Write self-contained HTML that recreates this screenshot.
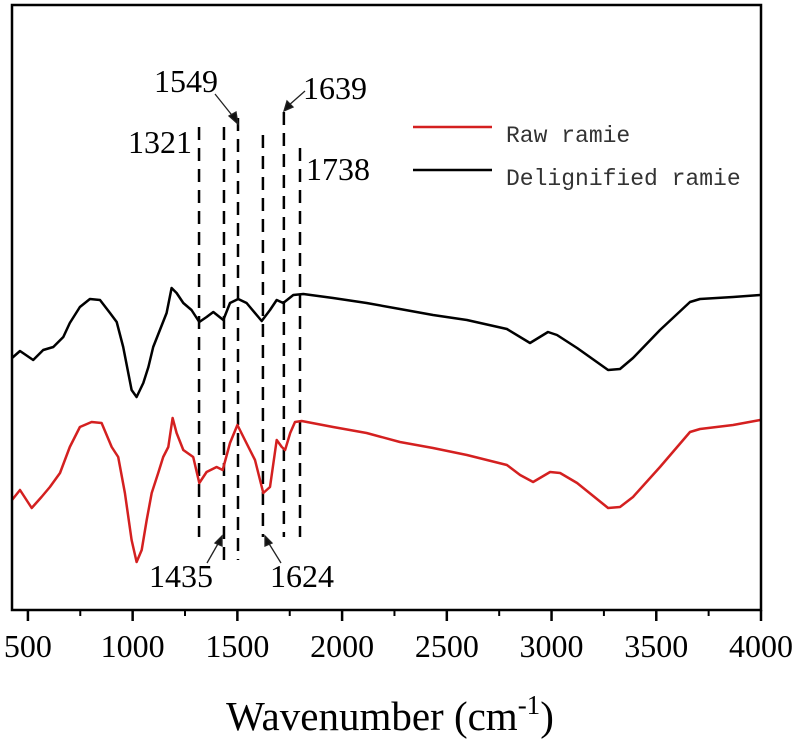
<!DOCTYPE html>
<html><head><meta charset="utf-8"><style>
body{margin:0;background:#fff}
svg{display:block;font-family:"Liberation Serif",serif}
</style></head><body>
<svg id="chart" width="800" height="745" viewBox="0 0 800 745" xmlns="http://www.w3.org/2000/svg">
<g id="plot"></g>
<rect x="12" y="5" width="749" height="605" fill="none" stroke="#000" stroke-width="2.5"/>
<g id="xaxis"></g>
<text x="390" y="730" font-size="41" text-anchor="middle">Wavenumber (cm<tspan font-size="27" dy="-16">-1</tspan><tspan dy="16">)</tspan></text>
<g font-family="Liberation Mono, monospace" font-size="23" fill="#333">
<line x1="413" y1="127" x2="492" y2="127" stroke="#d42020" stroke-width="2.5"/>
<text x="506" y="142">Raw ramie</text>
<line x1="413" y1="170" x2="492" y2="170" stroke="#000" stroke-width="2.5"/>
<text x="506" y="185">Delignified ramie</text>
</g>
<g font-size="32">
<text x="154" y="92">1549</text>
<text x="128" y="153">1321</text>
<text x="303" y="99">1639</text>
<text x="306" y="180">1738</text>
<text x="149" y="587">1435</text>
<text x="270" y="587">1624</text>
<g stroke="#222" stroke-width="1.3" fill="#111">
<line x1="215" y1="94" x2="235" y2="119"/><polygon points="238,124 229,116 236,112"/>
<line x1="305" y1="91" x2="288" y2="106"/><polygon points="284,111 287,101 293,107"/>
<line x1="207" y1="563" x2="219" y2="542"/><polygon points="222,536 222,546 215,543"/>
<line x1="281" y1="563" x2="268" y2="542"/><polygon points="265,536 272,543 265,546"/>
</g>
</g>
</svg>
<script>
const wnBlack=[424,462,525,573,621,669,700,748,796,844,892,924,955,995,1019,1051,1075,1098,1130,1162,1186,1210,1242,1281,1318,1353,1385,1433,1465,1504,1544,1616,1656,1688,1719,1767,1815,1957,2117,2276,2434,2596,2787,2897,2983,3026,3122,3270,3327,3389,3518,3661,3709,3867,3996];
const tBlack=[252,259,250,260,263,273,287,303,311,310,297,288,263,220,213,227,243,263,280,297,322,317,307,300,288,293,298,290,307,311,307,289,300,310,307,315,316,312,307,301,295,290,281,267,278,275,262,240,241,252,280,308,311,313,315];
const wnRed=[424,462,518,565,605,653,700,748,804,852,900,931,963,995,1019,1043,1067,1091,1122,1146,1170,1191,1210,1242,1289,1318,1353,1401,1430,1465,1500,1536,1584,1624,1656,1688,1712,1728,1752,1775,1807,1957,2117,2276,2434,2596,2787,2850,2912,2993,3041,3122,3270,3327,3389,3518,3661,3709,3867,3996];
const tRed=[110,120,102,113,123,137,163,183,188,187,163,153,117,70,48,60,90,117,137,153,163,192,177,160,153,127,138,143,140,167,185,170,150,117,123,170,163,160,177,188,189,183,177,168,162,155,145,135,128,138,137,127,102,103,113,143,178,181,185,190];
const xTicks=[500,1000,1500,2000,2500,3000,3500,4000];
const xMinor=[750,1250,1750,2250,2750,3250,3750];
const peakNames=[1321,1435,1549,1624,1639,1738];
const peakPos=[1317,1436,1503,1622,1722,1799];
const peakTop=[127,127,118,135,112,148];
const peakBottom=[537,560,560,537,537,537];
const NS="http://www.w3.org/2000/svg";
const X0=424,X1=4000,PX0=12,PX1=761;
function x(v){return PX0+(v-X0)*(PX1-PX0)/(X1-X0);}
function y(v){return 610-v;}
const plot=document.getElementById('plot'),ax=document.getElementById('xaxis');
function mk(tag,attrs,parent){const e=document.createElementNS(NS,tag);for(const k in attrs)e.setAttribute(k,attrs[k]);parent.appendChild(e);return e;}
function line(wn,t,color,name){
 const d=wn.map((w,i)=>(i?'L':'M')+x(w).toFixed(1)+','+y(t[i]).toFixed(1)).join('');
 const p=mk('path',{d:d,fill:'none',stroke:color,'stroke-width':2.5,'stroke-linejoin':'round'},plot);
 
 
}
peakPos.forEach((p,i)=>{
 const l=mk('line',{x1:x(p),x2:x(p),y1:peakTop[i],y2:peakBottom[i],stroke:'#000','stroke-width':2.5,'stroke-dasharray':'13 8'},plot);
 
 
});
line(wnBlack,tBlack,'#000','series-delignified-ramie');
line(wnRed,tRed,'#d42020','series-raw-ramie');
xTicks.forEach(t=>{
 const l=mk('line',{x1:x(t),x2:x(t),y1:610,y2:621,stroke:'#000','stroke-width':2.5},ax);
 
 
 const tx=mk('text',{x:x(t),y:657,'font-size':32,'text-anchor':'middle'},ax);
 tx.textContent=t;
 
 
});
xMinor.forEach(t=>{
 const l=mk('line',{x1:x(t),x2:x(t),y1:610,y2:616,stroke:'#000','stroke-width':2},ax);
 
 
});
</script>
</body></html>
